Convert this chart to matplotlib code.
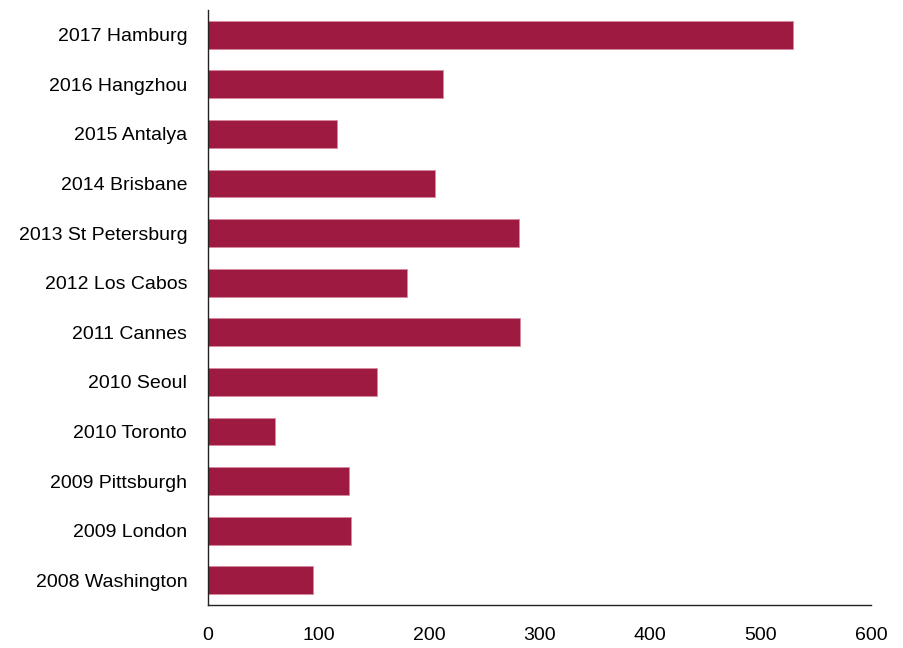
import matplotlib
matplotlib.use("Agg")
import matplotlib.pyplot as plt
import numpy as np

plt.rcParams['font.family'] = ['Liberation Sans', 'DejaVu Sans']

# G20 summits, top to bottom as drawn
summits = ['2017 Hamburg', '2016 Hangzhou', '2015 Antalya', '2014 Brisbane',
           '2013 St Petersburg', '2012 Los Cabos', '2011 Cannes', '2010 Seoul',
           '2010 Toronto', '2009 Pittsburgh', '2009 London', '2008 Washington']
values = [529, 213, 117, 205, 281, 180, 282, 153, 61, 128, 129, 95]
xticks = [0, 100, 200, 300, 400, 500, 600]

bar_color = '#9E1A40'

fig = plt.figure(figsize=(9.04, 6.48), dpi=100)
ax = fig.add_axes([208/904, 1 - 605/648, 663/904, 595/648])

y = np.arange(len(summits))
ax.barh(y, values, height=0.56, color=bar_color, edgecolor='#d88aa0', linewidth=0.6)

ax.set_ylim(len(summits) - 0.5, -0.5)
ax.set_xlim(0, 600)
ax.set_yticks(y)
ax.set_yticklabels(summits, fontsize=14)
ax.set_xticks(xticks)
ax.set_xticklabels([str(t) for t in xticks], fontsize=14)

ax.tick_params(axis='y', length=0, pad=15)
ax.tick_params(axis='x', length=0, pad=16)

ax.spines['top'].set_visible(False)
ax.spines['right'].set_visible(False)
for s in ['left', 'bottom']:
    ax.spines[s].set_color('#222222')
    ax.spines[s].set_linewidth(1.0)

fig.savefig('out.png', dpi=100)
